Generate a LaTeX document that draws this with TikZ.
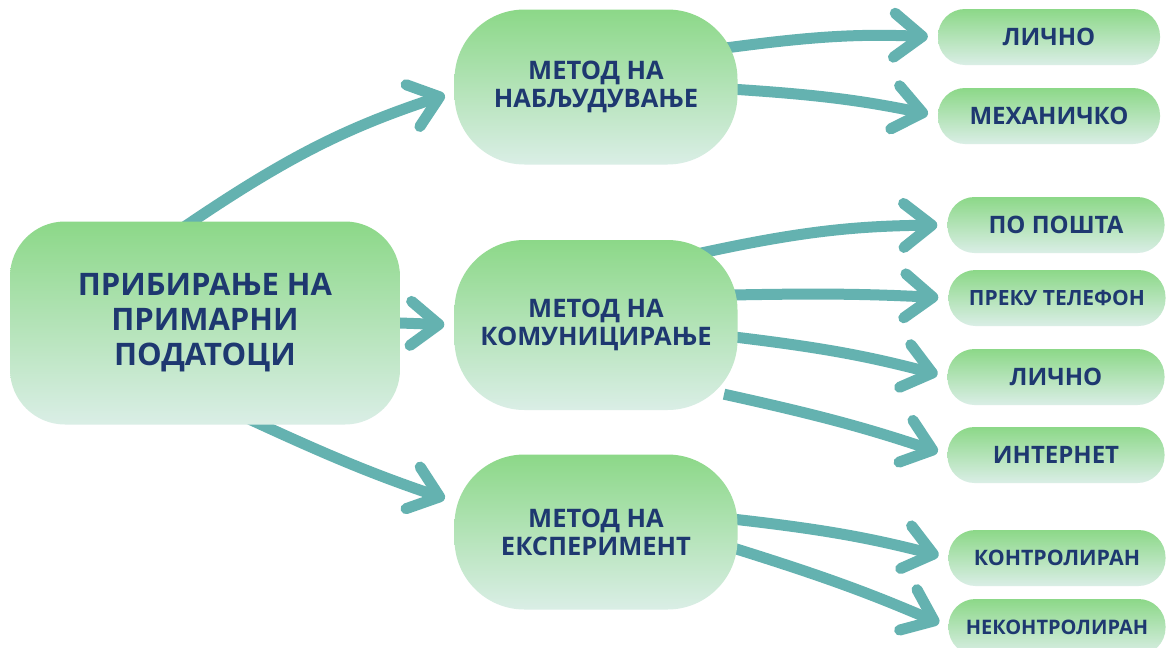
\documentclass[tikz,border=0pt]{standalone}
\usepackage{fontspec}
\setmainfont{Open Sans}
\usetikzlibrary{arrows.meta}
\pgfdeclarelayer{bg}
\pgfsetlayers{bg,main}
\definecolor{boxtop}{RGB}{140,216,136}
\definecolor{boxbot}{RGB}{218,238,230}
\definecolor{linkc}{RGB}{100,178,176}
\definecolor{textc}{RGB}{30,56,112}
\begin{document}
\begin{tikzpicture}[x=1pt,y=-1pt,
	box/.style={top color=boxtop,bottom color=boxbot,text=textc,align=center,inner sep=0pt},
	rootbox/.style={box,minimum width=390pt,minimum height=203pt,rounded corners=55pt,font=\bfseries\fontsize{31}{35}\selectfont},
	methodbox/.style={box,minimum width=283pt,minimum height=155pt,rounded corners=70pt,font=\bfseries\fontsize{25.5}{28}\selectfont},
	leafbox/.style={box,minimum width=217pt,minimum height=56pt,rounded corners=27pt,font=\bfseries\fontsize{24}{28}\selectfont},
	link/.style={linkc,line width=11pt,-{Straight Barb[length=28pt,width=44pt,round]},shorten <=-14pt,shorten >=10pt}]
	\useasboundingbox (0,0) rectangle (1168,648);
	\node[rootbox] (root) at (205,323) {ПРИБИРАЊЕ НА\\ПРИМАРНИ\\ПОДАТОЦИ};
	\node[methodbox] (observe) at (596,87) {МЕТОД НА\\НАБЉУДУВАЊЕ};
	\node[methodbox,minimum height=170pt] (commun) at (596,325) {МЕТОД НА\\КОМУНИЦИРАЊЕ};
	\node[methodbox] (exper) at (596,532) {МЕТОД НА\\ЕКСПЕРИМЕНТ};
	\node[leafbox,minimum width=222pt] (personal1) at (1049,37) {ЛИЧНО};
	\node[leafbox,minimum width=222pt] (mechanical) at (1049,116) {МЕХАНИЧКО};
	\node[leafbox] (mail) at (1056,225) {ПО ПОШТА};
	\node[leafbox,font=\bfseries\fontsize{21}{24}\selectfont] (phone) at (1057,298) {ПРЕКУ ТЕЛЕФОН};
	\node[leafbox] (personal2) at (1056,377) {ЛИЧНО};
	\node[leafbox] (internet) at (1056,455) {ИНТЕРНЕТ};
	\node[leafbox,font=\bfseries\fontsize{21.3}{24}\selectfont] (control) at (1057,558) {КОНТРОЛИРАН};
	\node[leafbox,font=\bfseries\fontsize{20}{24}\selectfont] (nocontrol) at (1057,627) {НЕКОНТРОЛИРАН};
	\begin{pgfonlayer}{bg}
	\fill[white] (0,0) rectangle (1168,648);
	\draw[link] (root.97) to[bend left=8] (observe.182);
	\draw[link] (root.east) -- (commun.west);
	\draw[link] (root.-61) to[bend right=3] (exper.168);
	\draw[link] (observe.16) to[bend left=5] (personal1.west);
	\draw[link] (observe.-1) to[bend left=4] (mechanical.west);
	\draw[link] ([yshift=-14pt]commun.40) to[bend left=6] (mail.west);
	\draw[link] (commun.12) to[bend left=2] (phone.west);
	\draw[link] (commun.-5) to[bend left=4] (personal2.west);
	\draw[link] (commun.-27) to[bend left=3] (internet.west);
	\draw[link] (exper.5) to[bend left=4] (control.west);
	\draw[link] (exper.-7) to[bend left=3] (nocontrol.west);
	\end{pgfonlayer}
\end{tikzpicture}
\end{document}
